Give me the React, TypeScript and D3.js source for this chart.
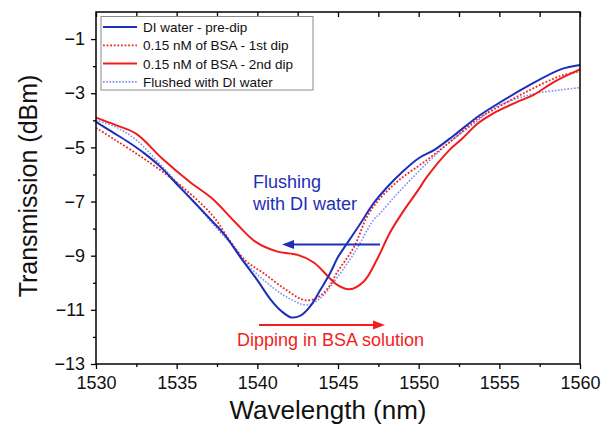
import * as d3 from "d3";
import React, { useEffect, useRef } from "react";

// DI water - pre-dip
const wlPreDip = [1530, 1531, 1532, 1533, 1534, 1535, 1536, 1537, 1538, 1539, 1540, 1540.8, 1541.5, 1542.1, 1542.7, 1543.3, 1543.9, 1544.5, 1545, 1545.5, 1546.4, 1547.2, 1548, 1549, 1550, 1551, 1552.2, 1553.7, 1554.6, 1556.7, 1558.8, 1560];
const tPreDip = [-4.06, -4.43, -4.8, -5.22, -5.72, -6.35, -6.97, -7.6, -8.25, -9.1, -9.9, -10.6, -11.05, -11.28, -11.2, -10.85, -10.27, -9.66, -9.05, -8.6, -7.8, -7.07, -6.5, -5.9, -5.4, -5.08, -4.55, -3.85, -3.5, -2.76, -2.12, -1.96];

// 0.15 nM of BSA - 1st dip
const wlDip1 = [1530, 1531.2, 1533.1, 1535.2, 1537.2, 1538.3, 1539.3, 1540.4, 1541.8, 1543, 1543.8, 1544.5, 1544.9, 1546, 1546.8, 1547.6, 1548.8, 1550.5, 1552.2, 1553.7, 1554.6, 1556.7, 1558.8, 1560];
const tDip1 = [-4.28, -4.73, -5.47, -6.39, -7.5, -8.45, -9.2, -9.65, -10.27, -10.65, -10.52, -10.1, -9.66, -8.67, -7.56, -6.89, -6.2, -5.47, -4.67, -3.93, -3.62, -2.94, -2.36, -2.2];

// 0.15 nM of BSA - 2nd dip
const wlDip2 = [1530, 1531.2, 1532.5, 1534.1, 1535.8, 1537.2, 1538.7, 1539.9, 1541.2, 1542.5, 1543.5, 1544.5, 1545, 1545.7, 1546.6, 1547.4, 1548.2, 1549, 1550, 1550.5, 1551.9, 1552.6, 1553.7, 1554.6, 1556.1, 1557.1, 1558.4, 1560];
const tDip2 = [-3.9, -4.17, -4.5, -5.41, -6.27, -6.89, -7.81, -8.49, -8.84, -8.97, -9.25, -9.84, -10.1, -10.24, -9.95, -9.16, -8.17, -7.4, -6.55, -6.1, -5.1, -4.73, -4.1, -3.75, -3.32, -3.07, -2.58, -2.12];

// Flushed with DI water
const wlFlushed = [1530, 1531.2, 1532.5, 1534.1, 1535.8, 1537.4, 1538.7, 1539.3, 1540.4, 1541.8, 1543.1, 1544, 1544.7, 1546, 1547.2, 1547.6, 1548.4, 1548.8, 1550.5, 1552.2, 1553.7, 1554.6, 1556.1, 1557.3, 1558.8, 1560];
const tFlushed = [-4.0, -4.24, -4.73, -5.71, -6.82, -7.93, -8.79, -9.28, -9.9, -10.52, -10.82, -10.52, -10.0, -8.91, -7.68, -7.44, -6.89, -6.63, -5.59, -4.67, -4.0, -3.56, -3.2, -3.0, -2.88, -2.79];

const seriesNames = ["DI water - pre-dip", "0.15 nM of BSA - 1st dip", "0.15 nM of BSA - 2nd dip", "Flushed with DI water"];
const xTicks = [1530, 1535, 1540, 1545, 1550, 1555, 1560];
const yTicks = [-1, -3, -5, -7, -9, -11, -13];

const FONT = "'Liberation Sans', Arial, sans-serif";

const App: React.FC = () => {
  const svgRef = useRef<SVGSVGElement>(null);

  useEffect(() => {
    if (!svgRef.current) return;
    const svg = d3.select(svgRef.current);
    svg.selectAll("*").remove();

    const left = 96, right = 580, top = 12, bottom = 364;
    const x = d3.scaleLinear().domain([1530, 1560]).range([left, right]);
    const y = d3.scaleLinear().domain([-13, 0]).range([bottom, top]);

    svg.append("rect").attr("width", 601).attr("height", 425).attr("fill", "#fff");

    const series = [
      { wl: wlPreDip, t: tPreDip, color: "#1c2fb8", width: 2, dash: null },
      { wl: wlDip1, t: tDip1, color: "#f02424", width: 1.8, dash: "1.8 1.8" },
      { wl: wlDip2, t: tDip2, color: "#f01c1c", width: 2, dash: null },
      { wl: wlFlushed, t: tFlushed, color: "#7d8ef2", width: 1.6, dash: "1.6 1.6" },
    ];

    const plot = svg.append("g");
    // draw order: flushed, dip1, dip2, pre-dip on top
    [3, 1, 2, 0].forEach((k) => {
      const s = series[k];
      const l = d3
        .line<number>()
        .x((_, i) => x(s.wl[i]))
        .y((d) => y(d))
        .curve(d3.curveCatmullRom.alpha(0.5));
      plot
        .append("path")
        .datum(s.t)
        .attr("fill", "none")
        .attr("stroke", s.color)
        .attr("stroke-width", s.width)
        .attr("stroke-dasharray", s.dash)
        .attr("d", l);
    });

    // frame
    svg
      .append("rect")
      .attr("x", left)
      .attr("y", top)
      .attr("width", right - left)
      .attr("height", bottom - top)
      .attr("fill", "none")
      .attr("stroke", "#000")
      .attr("stroke-width", 1.5);

    // bottom axis
    const xMinor = d3.range(1532.5, 1560, 5);
    const gx = svg.append("g").attr("transform", `translate(0,${bottom})`);
    gx.call(d3.axisBottom(x).tickValues(xTicks).tickSize(5).tickPadding(7).tickFormat(d3.format("d")));
    gx.append("g").call(d3.axisBottom(x).tickValues(xMinor).tickSize(3).tickFormat(() => ""));
    gx.selectAll(".domain").remove();
    gx.selectAll("text").attr("font-size", 18).attr("font-family", FONT).attr("fill", "#111");
    gx.selectAll("line").attr("stroke", "#000").attr("stroke-width", 1.3);

    // top ticks (inward)
    const gt = svg.append("g").attr("transform", `translate(0,${top})`);
    gt.call(d3.axisBottom(x).tickValues([...xTicks, ...xMinor]).tickSize(5).tickFormat(() => ""));
    gt.selectAll(".domain").remove();
    gt.selectAll("line").attr("stroke", "#000").attr("stroke-width", 1.3);

    // left axis
    const yMinor = d3.range(-12, 0, 2);
    const gy = svg.append("g").attr("transform", `translate(${left},0)`);
    gy.call(d3.axisLeft(y).tickValues(yTicks).tickSize(5).tickPadding(6).tickFormat(d3.format("d")));
    gy.append("g").call(d3.axisLeft(y).tickValues(yMinor).tickSize(3).tickFormat(() => ""));
    gy.selectAll(".domain").remove();
    gy.selectAll("text").attr("font-size", 18).attr("font-family", FONT).attr("fill", "#111");
    gy.selectAll("line").attr("stroke", "#000").attr("stroke-width", 1.3);

    // axis titles
    svg
      .append("text")
      .attr("x", (left + right) / 2 - 10)
      .attr("y", 419)
      .attr("text-anchor", "middle")
      .attr("font-family", FONT)
      .attr("font-size", 26)
      .attr("fill", "#111")
      .text("Wavelength (nm)");
    svg
      .append("text")
      .attr("transform", `translate(37,186) rotate(-90)`)
      .attr("text-anchor", "middle")
      .attr("font-family", FONT)
      .attr("font-size", 25)
      .attr("fill", "#111")
      .text("Transmission (dBm)");

    // legend
    const lg = svg.append("g");
    lg.append("rect")
      .attr("x", 101)
      .attr("y", 16.5)
      .attr("width", 212)
      .attr("height", 73.5)
      .attr("fill", "#fff")
      .attr("stroke", "#8a8a8a")
      .attr("stroke-width", 1);
    seriesNames.forEach((name, i) => {
      const s = series[i];
      const yy = 27 + i * 18.3;
      lg.append("line")
        .attr("x1", 103)
        .attr("x2", 137)
        .attr("y1", yy)
        .attr("y2", yy)
        .attr("stroke", s.color)
        .attr("stroke-width", s.width)
        .attr("stroke-dasharray", s.dash);
      lg.append("text")
        .attr("x", 143)
        .attr("y", yy + 5)
        .attr("font-family", FONT)
        .attr("font-size", 13.5)
        .attr("fill", "#111")
        .text(name);
    });

    // annotations
    const blue = "#1f2fb5";
    const red = "#f01e1e";
    const ann = svg.append("g").attr("font-family", FONT).attr("font-size", 18);
    ann.append("text").attr("x", 253).attr("y", 188).attr("fill", blue).text("Flushing");
    ann.append("text").attr("x", 253).attr("y", 210).attr("fill", blue).text("with DI water");
    ann.append("text").attr("x", 237).attr("y", 346).attr("fill", red).text("Dipping in BSA solution");

    const arrowY1 = 244.5;
    ann.append("line")
      .attr("x1", 380).attr("x2", 292).attr("y1", arrowY1).attr("y2", arrowY1)
      .attr("stroke", blue).attr("stroke-width", 2);
    ann.append("path")
      .attr("d", `M282,${arrowY1} L294,${arrowY1 - 4.5} L294,${arrowY1 + 4.5} Z`)
      .attr("fill", blue);

    const arrowY2 = 325;
    ann.append("line")
      .attr("x1", 259).attr("x2", 375).attr("y1", arrowY2).attr("y2", arrowY2)
      .attr("stroke", red).attr("stroke-width", 2);
    ann.append("path")
      .attr("d", `M385,${arrowY2} L373,${arrowY2 - 4.5} L373,${arrowY2 + 4.5} Z`)
      .attr("fill", red);
  }, []);

  return (
    <svg
      ref={svgRef}
      width={601}
      height={425}
      style={{ position: "absolute", left: 0, top: 0 }}
    ></svg>
  );
};

export default App;
